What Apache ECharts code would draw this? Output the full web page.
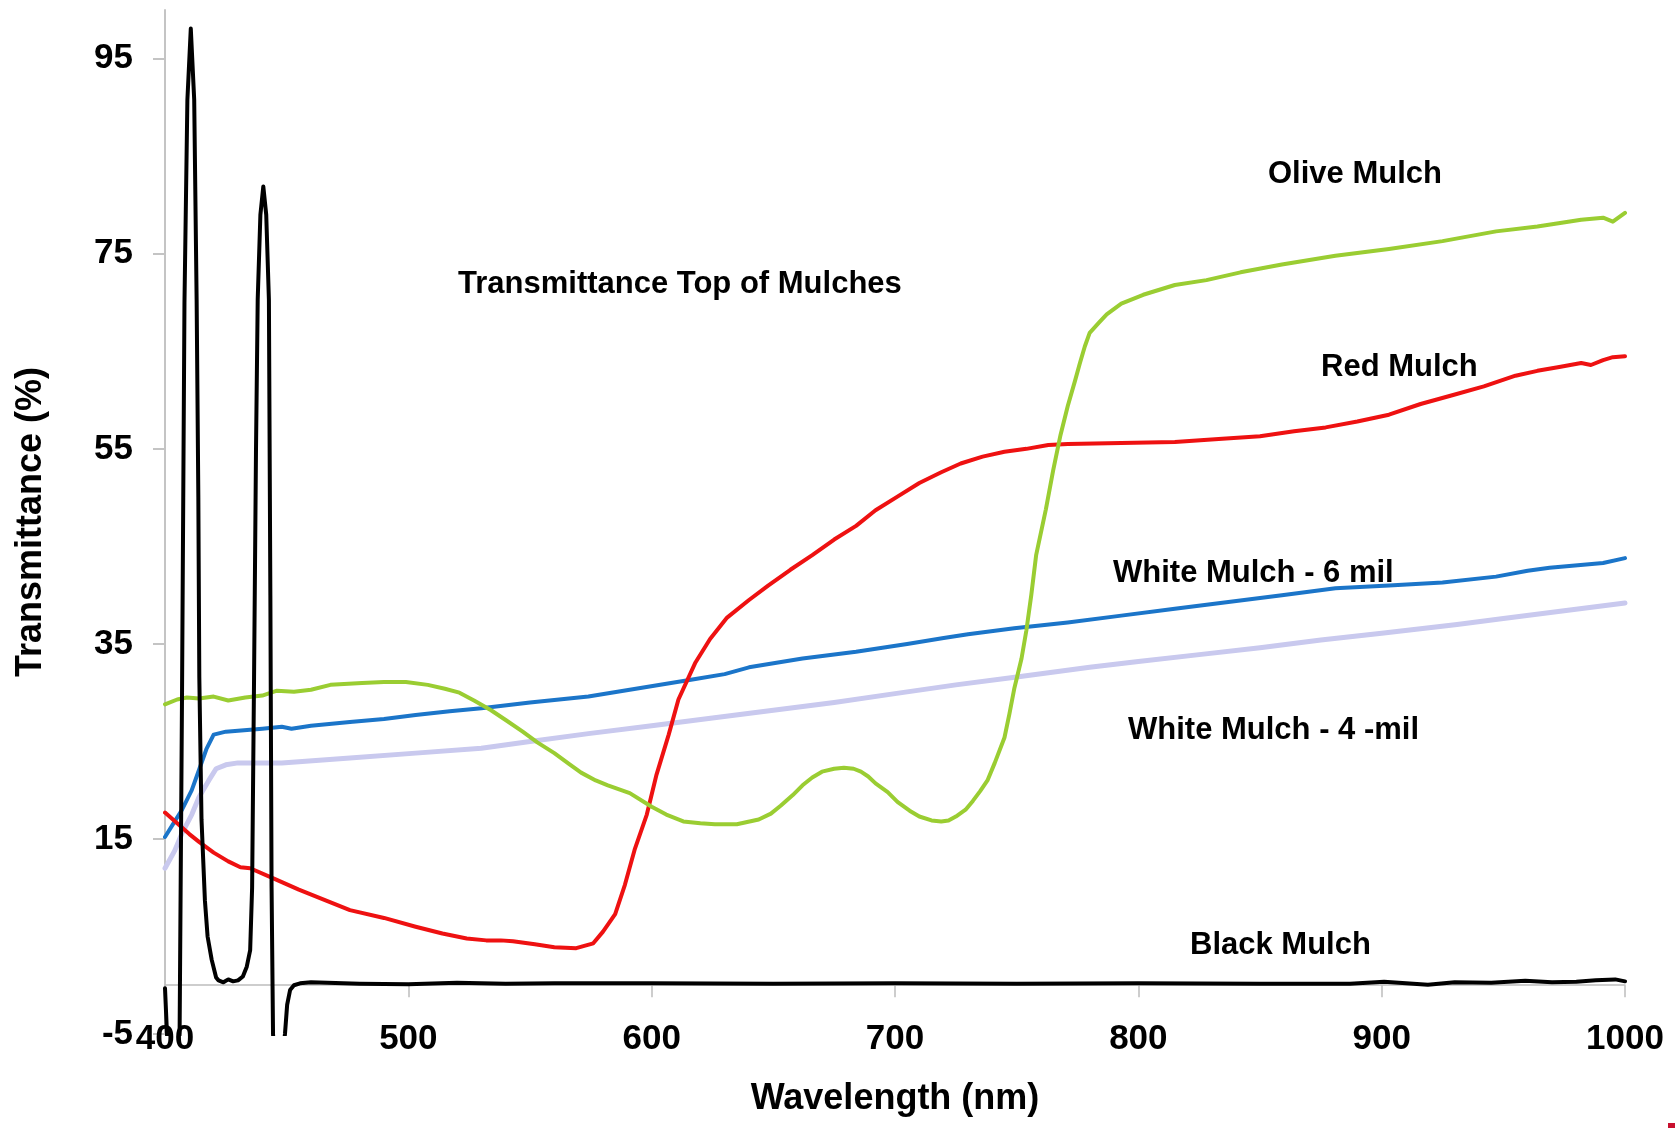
<!DOCTYPE html>
<html>
<head>
<meta charset="utf-8">
<script src="https://cdn.jsdelivr.net/npm/echarts@6/dist/echarts.min.js"></script>
<style>
html,body{margin:0;padding:0;background:#fff;}
#chart{width:1675px;height:1128px;}
</style>
</head>
<body>
<div id="chart"></div>
<script>
// ---- data ----
const xTicks = [400, 500, 600, 700, 800, 900, 1000];
const yTicks = [-5, 15, 35, 55, 75, 95];

const oliveNm = [400,405,409,414,420,426,433,440,446,453,460,468,481,490,499,508,515,521,527,534,540,547,553,560,566,571,577,582,591,600,606,613,620,626,635,644,649,653,658,662,666,670,675,679,683,686,689,692,697,701,706,710,715,719,722,725,729,732,735,738,741,745,747,749,752,754,756,758,762,765,768,771,774,776,778,780,784,787,793,802,815,828,842,859,881,903,925,947,964,982,991,995,1000];
const oliveVal = [28.8,29.3,29.5,29.4,29.6,29.2,29.5,29.7,30.2,30.1,30.3,30.8,31.0,31.1,31.1,30.8,30.4,30.0,29.2,28.2,27.2,26.0,24.9,23.8,22.7,21.8,21.0,20.5,19.7,18.3,17.5,16.8,16.6,16.5,16.5,17.0,17.6,18.4,19.5,20.5,21.3,21.9,22.2,22.3,22.2,21.9,21.4,20.7,19.8,18.8,17.9,17.3,16.9,16.8,16.9,17.3,18.0,18.9,19.9,21.0,22.8,25.4,27.8,30.4,33.5,36.4,40.0,44.1,48.8,52.8,56.4,59.4,62.0,63.8,65.5,66.9,68.0,68.8,69.9,70.8,71.8,72.3,73.1,73.9,74.8,75.5,76.3,77.3,77.8,78.5,78.7,78.3,79.2];

const redNm = [400,405,410,414,420,426,431,435,445,455,466,476,490,503,514,524,532,538,543,552,560,569,576,580,585,589,593,598,602,607,611,618,624,631,640,648,657,666,675,684,692,701,710,719,727,736,745,754,763,771,793,815,833,850,864,877,890,903,916,929,942,955,964,973,982,986,991,995,1000];
const redVal = [17.7,16.6,15.5,14.7,13.6,12.7,12.1,12.0,10.9,9.8,8.7,7.7,6.9,6.0,5.3,4.8,4.6,4.6,4.5,4.2,3.9,3.8,4.3,5.5,7.3,10.3,13.9,17.5,21.6,25.7,29.3,33.1,35.5,37.7,39.5,41.0,42.6,44.1,45.7,47.1,48.7,50.1,51.5,52.6,53.5,54.2,54.7,55.0,55.4,55.5,55.6,55.7,56.0,56.3,56.8,57.2,57.8,58.5,59.6,60.5,61.4,62.5,63.0,63.4,63.8,63.6,64.1,64.4,64.5];

const white6Nm = [400,404,407,411,414,417,420,425,430,440,448,452,460,476,490,503,517,530,550,574,596,618,630,640,662,684,705,720,730,749,771,793,815,837,859,881,903,925,947,960,969,991,1000];
const white6Val = [15.2,16.8,18.0,20.0,22.1,24.2,25.7,26.0,26.1,26.3,26.5,26.3,26.6,27.0,27.3,27.7,28.1,28.4,29.0,29.6,30.5,31.4,31.9,32.6,33.5,34.2,35.0,35.6,36.0,36.6,37.2,37.9,38.6,39.3,40.0,40.7,41.0,41.3,41.9,42.5,42.8,43.3,43.8];

const white4Nm = [400,404,407,411,414,418,421,425,430,448,476,503,530,550,574,600,625,650,675,700,725,750,780,800,825,850,875,900,931,950,975,1000];
const white4Val = [12.0,13.8,15.6,17.5,19.3,21.0,22.2,22.6,22.8,22.8,23.3,23.8,24.3,25.0,25.8,26.6,27.4,28.2,29.0,29.9,30.8,31.6,32.6,33.2,33.9,34.6,35.4,36.1,37.0,37.6,38.4,39.2];

const blackNm = [400,401,403.5,406,407,408,409.2,410.6,412,413,413.7,414.1,415,416.4,417.5,419.2,421,422,424,426,428,430,432,433.6,435,435.8,436.6,437.4,438.1,439.2,440.4,441.6,442.7,443.3,443.8,444.4,446,449.3,450.2,451.4,453,455.5,460,480,500,520,540,560,600,650,700,750,800,850,887,901,910,919,930,945,959,970,980,988,996,1000];
const blackVal = [-0.3,-6,-12,-5,30,70,90.8,98.1,90.8,70.3,50,31.6,17,8.7,5,2.6,0.8,0.5,0.3,0.6,0.4,0.5,0.9,1.9,3.6,10,31.6,55,70.3,79,81.9,79,70.3,40,10,-5,-12,-5,-2,-0.5,0.0,0.2,0.3,0.15,0.1,0.25,0.15,0.2,0.2,0.15,0.2,0.15,0.2,0.15,0.15,0.35,0.2,0.05,0.3,0.25,0.45,0.3,0.35,0.5,0.6,0.4];

const labelTexts = {
  title: 'Transmittance Top of Mulches',
  olive: 'Olive Mulch',
  red: 'Red Mulch',
  white6: 'White Mulch - 6 mil',
  white4: 'White Mulch - 4 -mil',
  black: 'Black Mulch'
};

// ---- chart ----
const pairs = (xs, ys) => xs.map((x, i) => [x, ys[i]]);
const FONT = 'Liberation Sans, Arial, Helvetica, sans-serif';
const chart = echarts.init(document.getElementById('chart'), null, {renderer: 'canvas'});

function lineSeries(name, xs, ys, color, width) {
  return {
    name, type: 'line', xAxisIndex: 0, yAxisIndex: 0,
    data: pairs(xs, ys), showSymbol: false, symbol: 'none', clip: true,
    lineStyle: {color, width, cap: 'round', join: 'round'},
    emphasis: {disabled: true}
  };
}

const annFont = 'bold 31px ' + FONT;
function ann(text, x, y) {
  return {type: 'text', x, y, silent: true,
    style: {text, font: annFont, fill: '#000', textAlign: 'left', textVerticalAlign: 'middle'}};
}

chart.setOption({
  animation: false,
  backgroundColor: '#ffffff',
  grid: {left: 165, right: 50, top: 10, bottom: 94, containLabel: false, outerBoundsMode: 'none'},
  xAxis: [
    {
      type: 'value', min: 400, max: 1000, interval: 100, position: 'bottom',
      axisLine: {show: true, onZero: true, lineStyle: {color: '#BDBDBD', width: 1.5}},
      axisTick: {show: true, inside: false, length: 12, lineStyle: {color: '#BDBDBD', width: 1.5}},
      axisLabel: {show: false},
      splitLine: {show: false}
    },
    {
      type: 'value', min: 400, max: 1000, interval: 100, position: 'bottom',
      axisLine: {show: false, onZero: false},
      axisTick: {show: false},
      axisLabel: {show: true, margin: -12, showMinLabel: true, showMaxLabel: true,
        formatter: v => String(v),
        fontFamily: FONT, fontWeight: 'bold', fontSize: 35, color: '#000'},
      splitLine: {show: false},
      name: 'Wavelength (nm)', nameLocation: 'middle', nameGap: 47,
      nameTextStyle: {fontFamily: FONT, fontWeight: 'bold', fontSize: 36, color: '#000'}
    }
  ],
  yAxis: {
    type: 'value', min: -5, max: 100, interval: 20,
    axisLine: {show: true, lineStyle: {color: '#C4C4C4', width: 2}},
    axisTick: {show: true, inside: false, length: 12, customValues: yTicks,
      lineStyle: {color: '#C4C4C4', width: 2}},
    axisLabel: {show: true, margin: 32, customValues: yTicks,
      formatter: v => String(v),
      fontFamily: FONT, fontWeight: 'bold', fontSize: 35, color: '#000'},
    splitLine: {show: false},
    name: 'Transmittance (%)', nameLocation: 'middle', nameRotate: 90, nameGap: 116,
    nameTextStyle: {fontFamily: FONT, fontWeight: 'bold', fontSize: 36, color: '#000'}
  },
  series: [
    lineSeries('White Mulch - 4 -mil', white4Nm, white4Val, '#C9C9EE', 5),
    lineSeries('White Mulch - 6 mil', white6Nm, white6Val, '#1B75C9', 4),
    lineSeries('Red Mulch', redNm, redVal, '#EE1111', 4),
    lineSeries('Olive Mulch', oliveNm, oliveVal, '#9ACD32', 4),
    lineSeries('Black Mulch', blackNm, blackVal, '#000000', 4)
  ],
  graphic: [
    ann(labelTexts.title, 458, 284.5),
    ann(labelTexts.olive, 1268, 174.5),
    ann(labelTexts.red, 1321, 367.5),
    ann(labelTexts.white6, 1113, 573.5),
    ann(labelTexts.white4, 1128, 730.5),
    ann(labelTexts.black, 1190, 945.5),
    {type: 'rect', silent: true, shape: {x: 1668, y: 1123, width: 7, height: 5}, style: {fill: '#C8102E'}}
  ]
});
</script>
</body>
</html>
